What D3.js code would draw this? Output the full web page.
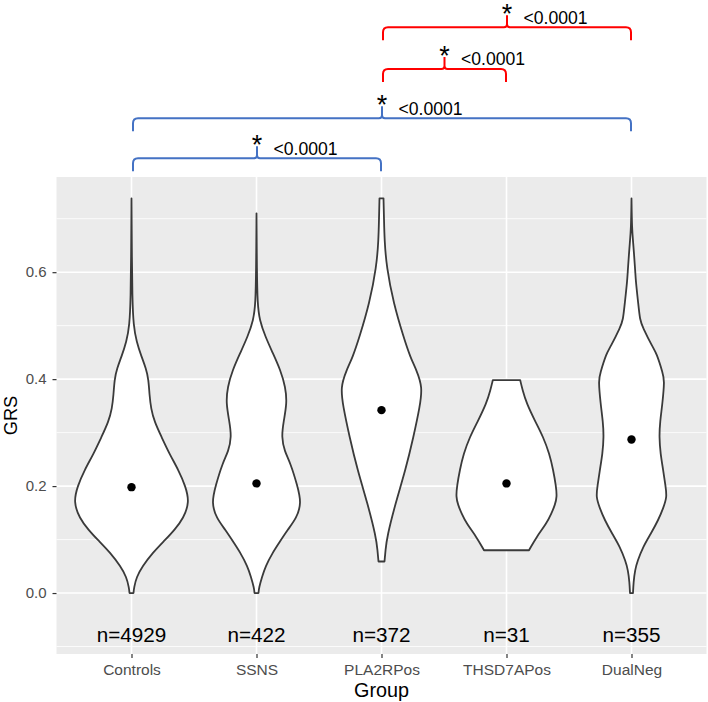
<!DOCTYPE html>
<html>
<head>
<meta charset="utf-8">
<script src="https://cdn.jsdelivr.net/npm/d3@7"></script>
<style>
  html, body { margin: 0; padding: 0; background: #ffffff; }
  svg { display: block; }
  text { font-family: "Liberation Sans", Arial, sans-serif; }
</style>
</head>
<body>
<svg id="chart" width="708" height="702"></svg>
<script>
// ---------------- DATA ----------------
const groups = ["Controls", "SSNS", "PLA2RPos", "THSD7APos", "DualNeg"];
const counts = [4929, 422, 372, 31, 355];
const means = [0.198, 0.205, 0.342, 0.205, 0.287];
const yTicks = [0.0, 0.2, 0.4, 0.6];
const yMinorTicks = [-0.1, 0.1, 0.3, 0.5, 0.7];

// violin density profiles: [GRS value, relative density] (max density = 57)
const controlsDensity = [
  [0.000, 2], [0.010, 2.5], [0.030, 5], [0.050, 11], [0.075, 21], [0.100, 34],
  [0.118, 43], [0.140, 52], [0.170, 58], [0.200, 54], [0.230, 47], [0.260, 38],
  [0.292, 30], [0.320, 23], [0.345, 19.5], [0.370, 18], [0.400, 17], [0.420, 14.5],
  [0.442, 10], [0.470, 5], [0.500, 2], [0.550, 0.8], [0.650, 0.3], [0.738, 0]
];
const ssnsDensity = [
  [0.000, 2], [0.010, 2.5], [0.030, 5.5], [0.050, 9], [0.075, 16], [0.095, 23],
  [0.118, 31], [0.140, 40], [0.168, 45], [0.200, 41], [0.243, 34], [0.265, 28],
  [0.292, 25], [0.320, 27], [0.355, 30.5], [0.385, 29], [0.417, 24], [0.450, 16],
  [0.479, 9], [0.510, 3], [0.542, 1], [0.600, 0.4], [0.710, 0]
];
const pla2rDensity = [
  [0.059, 3], [0.080, 4], [0.105, 5.5], [0.168, 14], [0.230, 24], [0.292, 32],
  [0.350, 38.5], [0.385, 41], [0.417, 35], [0.440, 29], [0.479, 22], [0.542, 12],
  [0.610, 5], [0.660, 3], [0.700, 2.5], [0.738, 2]
];
const thsd7aDensity = [
  [0.080, 22.5], [0.105, 30], [0.130, 40], [0.149, 45], [0.165, 48.5], [0.180, 50.5],
  [0.200, 49.5], [0.230, 46.7], [0.260, 43], [0.292, 36.7], [0.320, 29],
  [0.355, 20], [0.380, 16], [0.398, 13.7]
];
const dualNegDensity = [
  [0.000, 1.5], [0.020, 2], [0.043, 3.5], [0.060, 6], [0.087, 11.7], [0.110, 19],
  [0.136, 26.7], [0.160, 32], [0.180, 35.5], [0.200, 34], [0.230, 31.7], [0.260, 29],
  [0.292, 27.7], [0.320, 28.5], [0.355, 31], [0.398, 33], [0.410, 31.5],
  [0.449, 25], [0.460, 21], [0.498, 11], [0.510, 8.5], [0.542, 6.7], [0.585, 4.2],
  [0.604, 3.7], [0.660, 1.5], [0.680, 0.5], [0.738, 0]
];
const densities = [controlsDensity, ssnsDensity, pla2rDensity, thsd7aDensity, dualNegDensity];

// significance comparisons
const compFrom = ["Controls", "Controls", "PLA2RPos", "PLA2RPos"];
const compTo = ["PLA2RPos", "DualNeg", "THSD7APos", "DualNeg"];
const compLabels = ["<0.0001", "<0.0001", "<0.0001", "<0.0001"];
const compStars = ["*", "*", "*", "*"];
const compSet = ["blue", "blue", "red", "red"];
const nLabelValue = -0.078;

// ---------------- LAYOUT ----------------
const W = 708, H = 702;
const panel = { left: 56.5, right: 706.5, top: 177, bottom: 654 };
const bracketLineY = [158.3, 118.3, 69, 27.3];
const colorMap = { blue: "#4472C4", red: "#FF0000" };

const svg = d3.select("#chart");

const x = d3.scalePoint().domain(groups).range([panel.left, panel.right]).padding(0.6);
const y = d3.scaleLinear().domain([-0.114, 0.778]).range([panel.bottom, panel.top]);
const dScale = d3.scaleLinear().domain([0, 57]).range([0, x.step() * 0.456]);

// panel background
svg.append("rect")
  .attr("x", panel.left).attr("y", panel.top)
  .attr("width", panel.right - panel.left).attr("height", panel.bottom - panel.top)
  .attr("fill", "#EBEBEB");

// minor grid
svg.append("g").selectAll("line").data(yMinorTicks).join("line")
  .attr("x1", panel.left).attr("x2", panel.right)
  .attr("y1", d => y(d)).attr("y2", d => y(d))
  .attr("stroke", "#ffffff").attr("stroke-width", 0.8);
// major grid
svg.append("g").selectAll("line").data(yTicks).join("line")
  .attr("x1", panel.left).attr("x2", panel.right)
  .attr("y1", d => y(d)).attr("y2", d => y(d))
  .attr("stroke", "#ffffff").attr("stroke-width", 1.6);
svg.append("g").selectAll("line").data(groups).join("line")
  .attr("x1", d => x(d)).attr("x2", d => x(d))
  .attr("y1", panel.top).attr("y2", panel.bottom)
  .attr("stroke", "#ffffff").attr("stroke-width", 1.6);

// violins
const area = d3.area().curve(d3.curveBasis);
groups.forEach((g, i) => {
  const cx = x(g);
  area.y(d => y(d[0]))
      .x0(d => cx - dScale(d[1]))
      .x1(d => cx + dScale(d[1]));
  svg.append("path")
    .datum(densities[i])
    .attr("d", area)
    .attr("fill", "#ffffff")
    .attr("stroke", "#3a3a3a")
    .attr("stroke-width", 1.8)
    .attr("stroke-linejoin", "round");
});

// mean points
svg.append("g").selectAll("circle").data(groups).join("circle")
  .attr("cx", d => x(d))
  .attr("cy", (d, i) => y(means[i]))
  .attr("r", 4.2)
  .attr("fill", "#000000");

// n labels
svg.append("g").selectAll("text").data(groups).join("text")
  .attr("x", d => x(d))
  .attr("y", y(nLabelValue) + 0.358 * 20.7)
  .attr("text-anchor", "middle")
  .attr("font-size", 20.7)
  .attr("fill", "#000000")
  .text((d, i) => "n=" + counts[i]);

// axes
const yAxis = svg.append("g")
  .attr("transform", `translate(${panel.left},0)`)
  .call(d3.axisLeft(y).tickValues(yTicks).tickFormat(d3.format(".1f")).tickSize(4).tickPadding(6));
yAxis.select(".domain").remove();
yAxis.selectAll("line").attr("stroke", "#333333").attr("stroke-width", 1.2);
yAxis.selectAll("text").attr("fill", "#4d4d4d").attr("font-size", 15)
  .attr("font-family", '"Liberation Sans", Arial, sans-serif');

const xAxis = svg.append("g")
  .attr("transform", `translate(0,${panel.bottom})`)
  .call(d3.axisBottom(x).tickSize(4).tickPadding(5.5));
xAxis.select(".domain").remove();
xAxis.selectAll("line").attr("stroke", "#333333").attr("stroke-width", 1.2);
xAxis.selectAll("text").attr("fill", "#4d4d4d").attr("font-size", 15.5)
  .attr("font-family", '"Liberation Sans", Arial, sans-serif');

// axis titles
svg.append("text")
  .attr("x", (panel.left + panel.right) / 2)
  .attr("y", 697)
  .attr("text-anchor", "middle")
  .attr("font-size", 19.8)
  .attr("fill", "#000000")
  .text("Group");
svg.append("text")
  .attr("transform", `translate(16.5,${(panel.top + panel.bottom) / 2}) rotate(-90)`)
  .attr("text-anchor", "middle")
  .attr("font-size", 18.3)
  .attr("fill", "#000000")
  .text("GRS");

// significance brackets
function bracketPath(x0, x1, yh, yb, spike) {
  const xm = (x0 + x1) / 2, r = 5, s = 3;
  return `M${x0},${yb} L${x0},${yh + r} Q${x0},${yh} ${x0 + r},${yh} L${xm - s},${yh} ` +
         `Q${xm},${yh} ${xm},${yh - s} L${xm},${yh - spike} M${xm},${yh - s} ` +
         `Q${xm},${yh} ${xm + s},${yh} L${x1 - r},${yh} Q${x1},${yh} ${x1},${yh + r} L${x1},${yb}`;
}
compFrom.forEach((f, i) => {
  const x0 = x(f) + 1.5, x1 = x(compTo[i]) - 0.5;
  const yh = bracketLineY[i];
  const col = colorMap[compSet[i]];
  const xm = (x0 + x1) / 2;
  svg.append("path")
    .attr("d", bracketPath(x0, x1, yh, yh + 13, 12))
    .attr("fill", "none")
    .attr("stroke", col)
    .attr("stroke-width", 2);
  svg.append("text")
    .attr("x", xm)
    .attr("y", yh - 4.5)
    .attr("text-anchor", "middle")
    .attr("font-size", 27)
    .attr("fill", "#000000")
    .text(compStars[i]);
  svg.append("text")
    .attr("x", xm + 16.5)
    .attr("y", yh - 10 + 0.358 * 17.6)
    .attr("font-size", 17.6)
    .attr("fill", "#000000")
    .text(compLabels[i]);
});
</script>
</body>
</html>
